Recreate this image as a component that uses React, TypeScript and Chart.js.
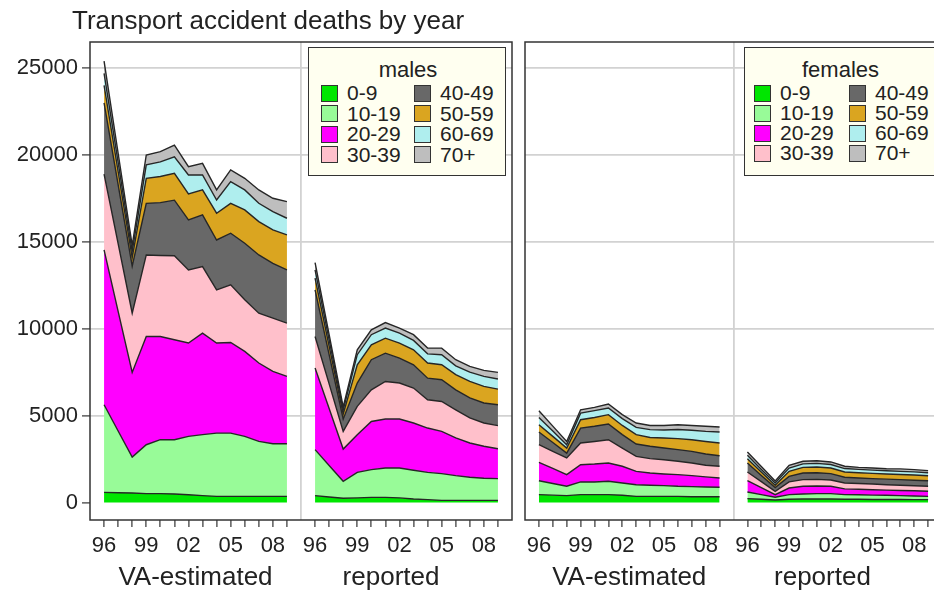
import React, { useEffect, useRef } from 'react';
import { Chart, registerables } from 'chart.js';

Chart.register(...registerables);

const FONT = "'Liberation Sans', Arial, Helvetica, sans-serif";
const TEXT = '#222222';

const chartTitle = 'Transport accident deaths by year';
const ageGroups = ['0-9', '10-19', '20-29', '30-39', '40-49', '50-59', '60-69', '70+'];
const ageColors = ['#00e600', '#98fb98', '#ff00ff', '#ffc0cb', '#686868', '#daa520', '#afeeee', '#bebebe'];
const yearLabels = ['96', '97', '98', '99', '00', '01', '02', '03', '04', '05', '06', '07', '08', '09'];
const labeledYears = ['96', '99', '02', '05', '08'];
const subPanels = ['VA-estimated', 'reported'];
const yTicks = [0, 5000, 10000, 15000, 20000, 25000];

// rows = age groups (0-9 ... 70+), columns = years 1996..2009
const maleVA = [
  [590, 570, 550, 520, 520, 500, 450, 400, 360, 360, 360, 360, 360, 360],
  [5040, 3550, 2070, 2810, 3100, 3120, 3360, 3510, 3640, 3640, 3450, 3160, 3030, 3030],
  [8910, 6880, 4870, 6230, 5940, 5750, 5370, 5840, 5180, 5210, 4890, 4510, 4160, 3870],
  [4360, 3900, 3410, 4690, 4660, 4830, 4210, 3830, 3060, 3320, 2970, 2870, 3060, 3070],
  [4100, 3400, 2700, 2970, 3040, 3200, 2870, 2970, 2870, 2970, 3250, 3350, 3160, 3060],
  [1000, 750, 500, 1440, 1500, 1550, 1500, 1440, 1540, 1720, 1920, 1920, 1920, 2010],
  [700, 530, 350, 770, 840, 950, 1090, 860, 760, 1250, 1150, 1050, 1050, 960],
  [700, 520, 350, 570, 590, 670, 480, 670, 580, 670, 670, 770, 770, 960],
];
const maleReported = [
  [400, 325, 250, 270, 300, 300, 270, 210, 170, 130, 130, 130, 130, 130],
  [2650, 1815, 980, 1470, 1600, 1690, 1720, 1650, 1570, 1540, 1420, 1330, 1270, 1250],
  [4690, 3270, 1850, 2170, 2770, 2820, 2820, 2720, 2550, 2430, 2170, 1970, 1840, 1720],
  [1820, 1420, 1020, 1630, 1820, 2160, 2070, 2010, 1630, 1720, 1620, 1440, 1340, 1330],
  [2680, 1690, 700, 1340, 1730, 1630, 1430, 1340, 1240, 1250, 1150, 1150, 1150, 1200],
  [670, 480, 300, 1050, 860, 860, 870, 860, 870, 860, 870, 950, 960, 900],
  [480, 360, 220, 580, 580, 580, 570, 540, 530, 580, 510, 540, 570, 580],
  [420, 300, 180, 280, 280, 320, 290, 330, 330, 380, 350, 330, 350, 380],
];
const femaleVA = [
  [460, 430, 400, 460, 460, 460, 420, 360, 360, 360, 360, 340, 340, 340],
  [800, 670, 540, 730, 730, 770, 710, 670, 640, 620, 580, 580, 560, 540],
  [1060, 870, 670, 990, 1030, 1050, 960, 770, 700, 670, 670, 630, 580, 540],
  [1010, 980, 960, 1250, 1300, 1340, 1050, 860, 830, 820, 770, 730, 670, 670],
  [730, 510, 280, 860, 870, 900, 770, 710, 710, 670, 670, 670, 650, 610],
  [420, 350, 290, 480, 510, 540, 530, 540, 510, 580, 630, 670, 720, 730],
  [420, 310, 190, 380, 390, 380, 390, 420, 450, 460, 530, 540, 580, 630],
  [390, 280, 190, 190, 190, 230, 230, 250, 240, 260, 270, 280, 290, 290],
];
const femaleReported = [
  [230, 190, 150, 190, 210, 210, 210, 190, 190, 180, 180, 180, 170, 170],
  [380, 270, 160, 270, 290, 310, 310, 270, 260, 250, 240, 220, 210, 190],
  [650, 400, 150, 380, 440, 440, 420, 330, 320, 310, 300, 300, 300, 290],
  [500, 350, 190, 350, 380, 380, 360, 340, 330, 330, 310, 300, 290, 290],
  [520, 350, 220, 320, 380, 380, 370, 330, 320, 310, 320, 320, 320, 320],
  [250, 200, 130, 290, 330, 330, 320, 300, 300, 300, 300, 300, 300, 290],
  [190, 150, 130, 190, 200, 210, 200, 200, 190, 190, 180, 180, 180, 170],
  [190, 170, 120, 160, 150, 150, 150, 130, 120, 120, 120, 140, 130, 120],
];

// x-axis layout: VA years at 0..13, divider at 14, reported years at 15..28
const REP_OFFSET = 15;
const DIVIDER = 14;
const X_MIN = -1;
const X_MAX = 29;
const SUB_LABEL_POS = [6.5, 20.4];

function buildDatasets(va: number[][], rep: number[][]) {
  const ds: any[] = [];
  [va, rep].forEach((panel, p) => {
    panel.forEach((series, g) => {
      ds.push({
        label: subPanels[p] + ' ' + ageGroups[g],
        data: series.map((v, i) => ({ x: i + (p ? REP_OFFSET : 0), y: v })),
        stack: subPanels[p],
        xAxisID: 'x',
        yAxisID: 'y',
        fill: g === 0 ? 'origin' : '-1',
        backgroundColor: ageColors[g],
        borderColor: '#262626',
        borderWidth: 1.4,
        pointRadius: 0,
        pointHoverRadius: 0,
        tension: 0,
      });
    });
  });
  return ds;
}

const xTickValues: number[] = [];
yearLabels.forEach((_, i) => xTickValues.push(i));
xTickValues.push(DIVIDER);
yearLabels.forEach((_, i) => xTickValues.push(i + REP_OFFSET));

function xLabel(v: number) {
  if (v === DIVIDER) return '';
  const idx = v > DIVIDER ? v - REP_OFFSET : v;
  const lab = yearLabels[idx];
  return labeledYears.includes(lab) ? lab : '';
}

const boxPlugin = {
  id: 'panelBox',
  afterDatasetsDraw(chart: any) {
    const { ctx, chartArea: a } = chart;
    ctx.save();
    ctx.strokeStyle = '#333333';
    ctx.lineWidth = 1.5;
    ctx.strokeRect(a.left, a.top, a.right - a.left, a.bottom - a.top);
    ctx.restore();
  },
};

function makeConfig(va: number[][], rep: number[][], showY: boolean, padLeft: number, padRight: number): any {
  return {
    type: 'line',
    data: { datasets: buildDatasets(va, rep) },
    plugins: [boxPlugin],
    options: {
      responsive: false,
      animation: false,
      events: [],
      layout: { padding: { top: 42, left: padLeft, right: padRight, bottom: 0 } },
      plugins: { legend: { display: false }, tooltip: { enabled: false }, title: { display: false } },
      scales: {
        x: {
          type: 'linear',
          position: 'bottom',
          min: X_MIN,
          max: X_MAX,
          weight: 0,
          afterBuildTicks: (s: any) => {
            s.ticks = xTickValues.map((v) => ({ value: v }));
          },
          afterFit: (s: any) => {
            s.height = 40;
          },
          grid: {
            color: (c: any) => (c.tick && c.tick.value === DIVIDER ? '#d2d2d2' : 'rgba(0,0,0,0)'),
            lineWidth: 1.8,
            tickColor: (c: any) => (c.tick && c.tick.value === DIVIDER ? 'rgba(0,0,0,0)' : '#333333'),
            tickLength: 7,
            tickWidth: 1.2,
          },
          border: { display: false },
          ticks: {
            autoSkip: false,
            maxRotation: 0,
            minRotation: 0,
            padding: 6,
            color: TEXT,
            font: { family: FONT, size: 22 },
            callback: (v: any) => xLabel(Number(v)),
          },
        },
        x2: {
          type: 'linear',
          axis: 'x',
          position: 'bottom',
          min: X_MIN,
          max: X_MAX,
          weight: 1,
          afterBuildTicks: (s: any) => {
            s.ticks = SUB_LABEL_POS.map((v) => ({ value: v }));
          },
          afterFit: (s: any) => {
            s.height = 32;
          },
          grid: { display: false, drawTicks: false },
          border: { display: false },
          ticks: {
            autoSkip: false,
            maxRotation: 0,
            minRotation: 0,
            padding: 2,
            color: TEXT,
            font: { family: FONT, size: 26 },
            callback: (_v: any, i: number) => subPanels[i],
          },
        },
        y: {
          type: 'linear',
          stacked: true,
          min: -1000,
          max: 26500,
          afterBuildTicks: (s: any) => {
            s.ticks = yTicks.map((v) => ({ value: v }));
          },
          afterFit: (s: any) => {
            s.width = showY ? 90 : 0;
          },
          grid: {
            color: (c: any) => (c.tick && c.tick.value === 0 ? 'rgba(0,0,0,0)' : '#d2d2d2'),
            lineWidth: 1.8,
            tickColor: '#333333',
            tickLength: showY ? 8 : 0,
            drawTicks: showY,
            tickWidth: 1.2,
          },
          border: { display: false },
          ticks: {
            display: showY,
            padding: 4,
            color: TEXT,
            font: { family: FONT, size: 22 },
            callback: (v: any) => String(v),
          },
        },
      },
    },
  };
}

function ChartCanvas(props: { va: number[][]; rep: number[][]; showY: boolean; left: number; width: number; padLeft: number; padRight: number }) {
  const ref = useRef<HTMLCanvasElement | null>(null);
  useEffect(() => {
    if (!ref.current) return;
    const chart = new Chart(ref.current, makeConfig(props.va, props.rep, props.showY, props.padLeft, props.padRight));
    return () => chart.destroy();
  }, []);
  return (
    <canvas
      ref={ref}
      width={props.width}
      height={592}
      style={{ position: 'absolute', left: props.left, top: 0, width: props.width, height: 592, display: 'block' }}
    />
  );
}

function Legend(props: { heading: string; left: number; width: number; titleX: number; sqX: number; colStep: number; rowStep: number }) {
  const rowStart = 45;
  return (
    <div
      style={{
        position: 'absolute',
        left: props.left,
        top: 47,
        width: props.width,
        height: 129,
        background: '#fffff0',
        border: '1.5px solid #333',
        boxSizing: 'border-box',
        fontFamily: FONT,
        color: TEXT,
      }}
    >
      <div
        style={{
          position: 'absolute',
          left: props.titleX - 60,
          width: 120,
          top: 10,
          lineHeight: '24px',
          textAlign: 'center',
          fontSize: 22,
        }}
      >
        {props.heading}
      </div>
      {ageGroups.map((g, i) => {
        const col = Math.floor(i / 4);
        const row = i % 4;
        const cy = rowStart + row * props.rowStep;
        const sx = props.sqX + col * props.colStep;
        return (
          <React.Fragment key={g}>
            <div
              style={{
                position: 'absolute',
                left: sx,
                top: cy - 8.5,
                width: 17,
                height: 17,
                background: ageColors[i],
                border: '1px solid #333',
                boxSizing: 'border-box',
              }}
            />
            <div
              style={{
                position: 'absolute',
                left: sx + 26,
                top: cy - 12,
                lineHeight: '24px',
                fontSize: 21,
                whiteSpace: 'nowrap',
              }}
            >
              {g}
            </div>
          </React.Fragment>
        );
      })}
    </div>
  );
}

export default function App() {
  return (
    <div
      style={{
        position: 'fixed',
        left: 0,
        top: 0,
        width: 934,
        height: 592,
        overflow: 'hidden',
        background: '#ffffff',
      }}
    >
      <ChartCanvas va={maleVA} rep={maleReported} showY={true} left={0} width={520} padLeft={0} padRight={8} />
      <ChartCanvas va={femaleVA} rep={femaleReported} showY={false} left={518} width={430} padLeft={7} padRight={6} />
      <div
        style={{
          position: 'absolute',
          left: 72,
          top: 5,
          fontFamily: FONT,
          fontSize: 26,
          lineHeight: '30px',
          color: TEXT,
          whiteSpace: 'nowrap',
        }}
      >
        {chartTitle}
      </div>
      <Legend heading="males" left={308} width={198} titleX={99} sqX={12} colStep={93} rowStep={20.5} />
      <Legend heading="females" left={744} width={192} titleX={95.5} sqX={9} colStep={95} rowStep={20} />
    </div>
  );
}
